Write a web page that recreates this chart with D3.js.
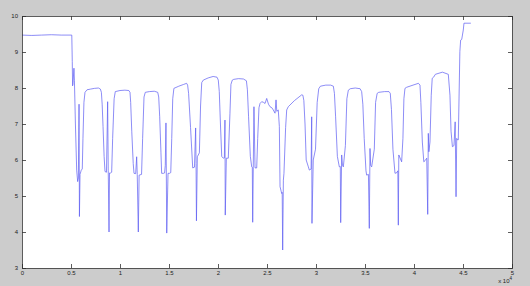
<!DOCTYPE html>
<html>
<head>
<meta charset="utf-8">
<script src="https://cdn.jsdelivr.net/npm/d3@7"></script>
<style>
  html, body { margin: 0; padding: 0; background: #cccccc; }
  svg { display: block; }
  .tick text { font-family: "Liberation Sans", Arial, sans-serif; font-size: 6px; fill: #222; }
  .domain, .tick line { stroke: #333; stroke-width: 0.8; }
</style>
</head>
<body>
<div id="chart"></div>
<script>
// signal samples (x in units of 1e4)
const xs = [
  0, 0.1, 0.2, 0.3, 0.4, 0.508,
  0.513, 0.516, 0.52, 0.53, 0.535, 0.545, 0.558, 0.568, 0.575, 0.582, 0.586, 0.592, 0.605, 0.615,
  0.622, 0.632, 0.643, 0.663, 0.7, 0.74, 0.78, 0.8, 0.81, 0.818, 0.827, 0.838, 0.847, 0.862,
  0.874, 0.88, 0.888, 0.893, 0.905, 0.915, 0.925, 0.94, 0.952, 1.0, 1.05, 1.09, 1.102, 1.109, 1.12, 1.135, 1.143,
  1.16, 1.17, 1.176, 1.187, 1.195, 1.22, 1.231, 1.245, 1.258, 1.3, 1.35, 1.385, 1.395, 1.405, 1.418, 1.425,
  1.445, 1.455, 1.462, 1.469, 1.477, 1.49, 1.505, 1.518, 1.528, 1.538, 1.55, 1.6, 1.65, 1.68, 1.69, 1.7, 1.72, 1.742,
  1.76, 1.772, 1.776, 1.78, 1.789, 1.81, 1.822, 1.834, 1.85, 1.9, 1.95, 1.99, 2.003, 2.013, 2.025, 2.038, 2.054,
  2.065, 2.071, 2.074, 2.085, 2.105, 2.122, 2.132, 2.146, 2.16, 2.21, 2.26, 2.29, 2.3, 2.312, 2.33, 2.344,
  2.35, 2.354, 2.36, 2.367, 2.378, 2.395, 2.405, 2.418, 2.429,
  2.446, 2.465, 2.48, 2.497, 2.515, 2.531, 2.55, 2.564, 2.582, 2.592, 2.6, 2.615, 2.626, 2.633, 2.65, 2.655, 2.66, 2.667,
  2.673, 2.69, 2.701, 2.717, 2.78, 2.854, 2.866, 2.876, 2.888, 2.9, 2.922,
  2.932, 2.95, 2.956, 2.959, 2.972, 2.995, 3.012, 3.028, 3.045, 3.1, 3.15, 3.177, 3.188, 3.2, 3.218, 3.238,
  3.248, 3.252, 3.262, 3.27, 3.279, 3.3, 3.315, 3.33, 3.35, 3.4, 3.45, 3.466, 3.478, 3.492, 3.51, 3.517,
  3.535, 3.544, 3.551, 3.558, 3.568, 3.595, 3.608, 3.624, 3.64, 3.7, 3.745, 3.758, 3.77, 3.785, 3.806,
  3.825, 3.835, 3.84, 3.845, 3.874, 3.887, 3.897, 3.908, 3.925, 3.99, 4.045, 4.061, 4.07, 4.085, 4.1, 4.112,
  4.13, 4.14, 4.146, 4.152, 4.163, 4.176, 4.186, 4.2, 4.218, 4.29, 4.35, 4.367, 4.378, 4.392, 4.408,
  4.42, 4.429, 4.436, 4.443, 4.452, 4.468, 4.476, 4.487, 4.503, 4.51, 4.52, 4.58, 4.656
];
const ys = [
  9.47, 9.46, 9.47, 9.48, 9.47, 9.47,
  8.73, 8.06, 8.1, 8.55, 8.2, 7.0, 5.72, 5.4, 5.5, 7.55, 4.43, 5.6, 5.72, 5.75,
  6.6, 7.6, 7.88, 7.95, 7.97, 7.99, 8.0, 7.97, 7.88, 7.55, 6.93, 6.1, 5.68, 5.66,
  7.62, 5.7, 4.0, 5.64, 5.64, 5.66, 6.6, 7.7, 7.9, 7.93, 7.94, 7.93, 7.88, 7.6, 6.8, 5.9, 5.63,
  5.62, 6.09, 5.6, 4.0, 5.58, 5.6, 6.6, 7.75, 7.88, 7.9, 7.91, 7.88, 7.75, 7.2, 6.2, 5.63,
  5.63, 5.64, 5.85, 7.03, 3.97, 5.63, 5.63, 5.65, 6.6, 7.7, 7.99, 8.05, 8.1, 8.13, 8.08, 7.85, 6.9, 5.78,
  5.8, 6.89, 5.9, 4.31, 6.09, 6.2, 7.5, 8.15, 8.22, 8.28, 8.32, 8.3, 8.22, 7.9, 7.0, 6.1, 6.05,
  6.06, 7.11, 4.47, 6.05, 6.05, 7.3, 8.1, 8.22, 8.24, 8.26, 8.25, 8.2, 7.95, 7.2, 6.1, 5.81,
  5.8, 4.27, 5.8, 7.48, 5.78, 5.78, 6.6, 7.45, 7.57,
  7.62, 7.6, 7.57, 7.71, 7.55, 7.48, 7.45, 7.39, 7.3, 7.67, 7.35, 7.39, 6.93, 5.26, 5.07, 5.1, 3.5, 5.44,
  5.63, 6.9, 7.39, 7.48, 7.65, 7.81, 7.8, 7.65, 7.0, 6.0, 5.81,
  5.72, 5.75, 7.2, 4.24, 6.0, 6.3, 7.6, 7.98, 8.05, 8.08, 8.08, 8.05, 7.85, 7.2, 6.1, 5.81,
  5.82, 4.26, 6.14, 5.85, 5.81, 6.4, 7.7, 7.94, 7.98, 8.0, 7.98, 7.9, 7.55, 6.6, 5.7, 5.58,
  5.6, 4.1, 6.32, 5.85, 5.81, 6.3, 7.6, 7.85, 7.88, 7.9, 7.9, 7.85, 7.4, 6.3, 5.63,
  5.65, 5.7, 4.19, 6.14, 5.95, 6.6, 7.7, 7.99, 8.02, 8.08, 8.13, 8.08, 7.6, 6.5, 5.95,
  5.98, 6.05, 4.49, 6.74, 6.23, 6.5, 7.8, 8.27, 8.3, 8.38, 8.44, 8.38, 7.8, 6.8, 6.37,
  6.4, 7.06, 4.98, 6.6, 6.56, 6.56, 9.01, 9.33, 9.35, 9.61, 9.8, 9.8, 9.8
];

const xTicks = [0, 0.5, 1, 1.5, 2, 2.5, 3, 3.5, 4, 4.5, 5];
const xTickLabels = ["0", "0.5", "1", "1.5", "2", "2.5", "3", "3.5", "4", "4.5", "5"];
const yTicks = [3, 4, 5, 6, 7, 8, 9, 10];

const W = 530, H = 286;
const margin = { left: 22, top: 16, right: 18, bottom: 18 };
const iw = W - margin.left - margin.right;
const ih = H - margin.top - margin.bottom;

const svg = d3.select('#chart').append('svg')
    .attr('width', W)
    .attr('height', H);

const g = svg.append('g')
    .attr('transform', `translate(${margin.left},${margin.top})`);

const x = d3.scaleLinear().domain([0, 5]).range([0, iw]);
const y = d3.scaleLinear().domain([3, 10]).range([ih, 0]);

// white plot area
g.append('rect')
    .attr('width', iw)
    .attr('height', ih)
    .attr('fill', '#ffffff');

const pts = xs.map((v, i) => [v, ys[i]]);

g.append('path')
    .datum(pts)
    .attr('fill', 'none')
    .attr('stroke', '#5c5cf2')
    .attr('stroke-width', 0.7)
    .attr('stroke-linejoin', 'round')
    .attr('d', d3.line().x(d => x(d[0])).y(d => y(d[1])));

// axes, ticks pointing inward like matlab
g.append('g')
    .attr('transform', `translate(0,${ih})`)
    .call(d3.axisBottom(x).tickValues(xTicks).tickSize(-4).tickPadding(3)
        .tickFormat((d, i) => xTickLabels[i]));

g.append('g')
    .call(d3.axisTop(x).tickValues(xTicks).tickSize(-4).tickFormat(''));

g.append('g')
    .call(d3.axisLeft(y).tickValues(yTicks).tickSize(-4).tickPadding(4)
        .tickFormat(d3.format('d')));

g.append('g')
    .attr('transform', `translate(${iw},0)`)
    .call(d3.axisRight(y).tickValues(yTicks).tickSize(-4).tickFormat(''));

g.selectAll('.domain').attr('stroke', '#333');

// exponent label
const ex = svg.append('text')
    .attr('x', margin.left + iw)
    .attr('y', H - 3)
    .attr('text-anchor', 'end')
    .attr('font-family', '"Liberation Sans", Arial, sans-serif')
    .attr('font-size', 6)
    .attr('fill', '#222');
ex.append('tspan').text('x 10');
ex.append('tspan').attr('dy', -3).attr('font-size', 4.5).text('4');
</script>
</body>
</html>
